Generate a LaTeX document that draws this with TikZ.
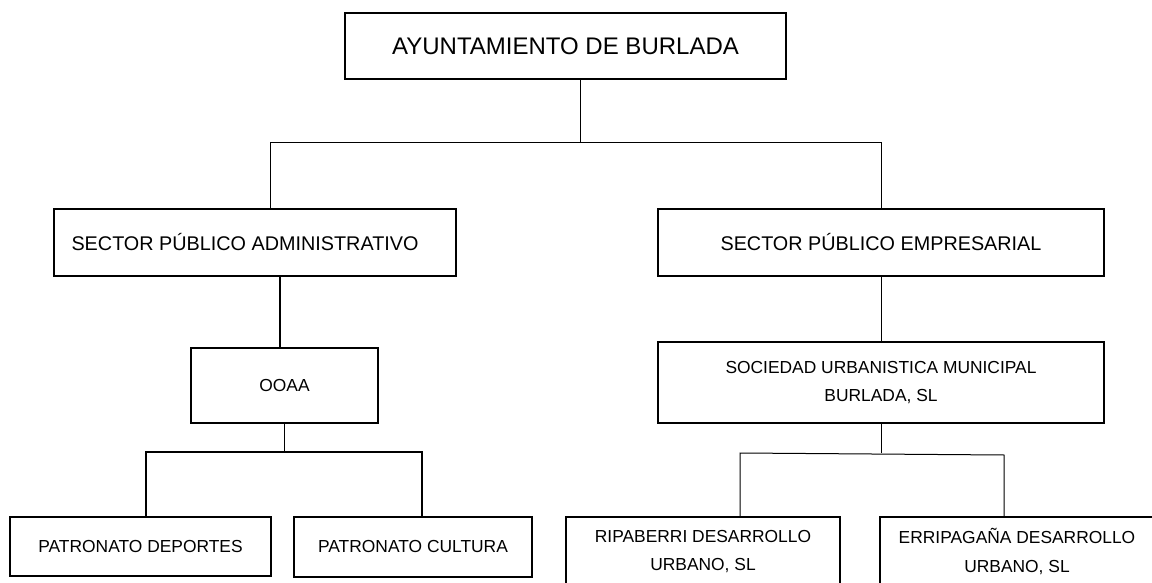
\documentclass[tikz,border=0pt]{standalone}
\usepackage{fontspec}
\setmainfont{Liberation Sans}
\begin{document}
\begin{tikzpicture}[x=1pt,y=-1pt,
  box/.style={draw=black,line width=1.3pt,rectangle,inner sep=0pt,align=center},
  big/.style={font=\fontsize{24}{28}\selectfont},
  mid/.style={font=\fontsize{19.8}{24}\selectfont},
  small/.style={font=\fontsize{17.4}{28.5}\selectfont},
  thin/.style={line width=1pt},
  thickline/.style={line width=2.2pt},
  medline/.style={line width=1.8pt}]
\useasboundingbox (0,0) rectangle (1152,583);
\clip (0,0) rectangle (1152,583);
\fill[white] (0,0) rectangle (1152,583);

\node[box,big,minimum width=441pt,minimum height=66pt] (top) at (565.5,46) {\raisebox{-2pt}{AYUNTAMIENTO DE BURLADA}};
\node[box,mid,minimum width=402pt,minimum height=67pt] (admin) at (255,242.5) {\kern-10pt SECTOR PÚBLICO ADMINISTRATIVO\kern10pt};
\node[box,mid,minimum width=446pt,minimum height=67pt] (emp) at (881,242.5) {SECTOR PÚBLICO EMPRESARIAL};
\node[box,small,minimum width=187pt,minimum height=75pt] (ooaa) at (284.5,385.5) {OOAA};
\node[box,small,minimum width=446pt,minimum height=81pt] (soc) at (881,382.5) {SOCIEDAD URBANISTICA MUNICIPAL\\BURLADA, SL};
\node[box,small,minimum width=261pt,minimum height=59pt] (pd) at (140.5,546.5) {PATRONATO DEPORTES};
\node[box,small,minimum width=238pt,minimum height=60pt] (pc) at (413,547) {PATRONATO CULTURA};
\node[box,small,minimum width=274pt,minimum height=69pt] (rip) at (703,551.5) {RIPABERRI DESARROLLO\\URBANO, SL};
\node[box,small,minimum width=274pt,minimum height=69pt] (err) at (1017,551.5) {ERRIPAGAÑA DESARROLLO\\URBANO, SL};

\coordinate (j1) at (580,143);
\draw[thin] ([xshift=14.5pt]top.south) -- (j1);
\draw[thin] ([xshift=15pt]admin.north) -- ([xshift=15pt]admin.north |- j1) -| (emp.north);

\draw[thickline] ([xshift=25pt]admin.south) -- ([xshift=25pt]admin.south |- ooaa.north);
\coordinate (j2) at (284.5,452);
\draw[medline] (ooaa.south) -- (j2);
\draw[medline] ([xshift=5.5pt]pd.north) -- ([xshift=5.5pt]pd.north |- j2) -- ([xshift=9pt]pc.north |- j2) -- ([xshift=9pt]pc.north);

\draw[thin] (emp.south) -- (soc.north);
\coordinate (j3) at (881,453);
\draw[thin] (soc.south) -- (j3);
\draw[thin] ([xshift=37pt]rip.north) -- ([xshift=37pt]rip.north |- j3) -- ([xshift=-13pt,yshift=-2pt]err.north |- j3) -- ([xshift=-13pt]err.north);
\end{tikzpicture}
\end{document}
